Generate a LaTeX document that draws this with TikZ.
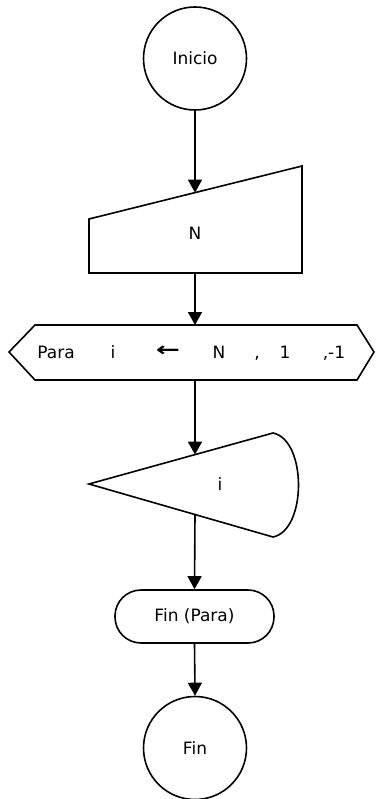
\documentclass[tikz,border=0pt]{standalone}
\usepackage{fontspec}
\setmainfont{DejaVu Sans}
\usetikzlibrary{arrows.meta}
\begin{document}
\begin{tikzpicture}[x=1pt,y=-1pt,
  every node/.style={font=\fontsize{17}{20}\selectfont},
  shapeline/.style={draw=black,line width=1.6pt,line join=miter},
  circ/.style={shapeline,circle,minimum size=103pt,inner sep=0pt},
  term/.style={shapeline,rectangle,rounded corners=26pt,minimum width=159pt,minimum height=53pt,inner sep=0pt},
  txt/.style={inner sep=0pt,anchor=center},
  hextxt/.style={inner sep=0pt,anchor=base},
  arr/.style={draw=black,line width=1.6pt,-{Triangle[width=14pt,length=13pt]}}]
\useasboundingbox (0,0) rectangle (375,799);
% Inicio
\node[circ] (inicio) at (195,58.5) {Inicio};
% manual input N
\draw[shapeline] (89,219) -- (302,166) -- (302,273) -- (89,273) -- cycle;
\node[txt] (ntext) at (195,233) {N};
\coordinate (miTop) at (195,192.6);
\coordinate (miBot) at (195,273);
% hexagon Para
\draw[shapeline] (9,352) -- (35,325) -- (357,325) -- (374,352) -- (357,380) -- (35,380) -- cycle;
\coordinate (hexTop) at (195,325);
\coordinate (hexBot) at (195,380);
\node[hextxt] (para) at (56,358) {Para};
\node[hextxt] (ivar) at (113,358) {i};
\node[txt] (assign) at (168,351.5) {\bfseries\scalebox{1.7}[1.15]{←}};
\node[hextxt] (nval) at (219,358) {N};
\node[hextxt] (c1) at (257,358) {,};
\node[hextxt] (one) at (285,358) {1};
\node[hextxt] (step) at (334,358) {,-1};
% loop shape i
\draw[shapeline] (89,484) -- (273,433) .. controls (307,440) and (307,530) .. (273,537) -- cycle;
\node[txt] (itext) at (220,484) {i};
\coordinate (shTop) at (195,454.6);
\coordinate (shBot) at (195,514.5);
% Fin (Para)
\node[term] (finpara) at (194.5,616.5) {Fin (Para)};
% Fin
\node[circ] (fin) at (195,748) {Fin};
% connectors
\draw[arr] (inicio.south) -- (miTop);
\draw[arr] (miBot) -- (hexTop);
\draw[arr] (hexBot) -- (shTop);
\draw[arr] (shBot) -- (finpara.north);
\draw[arr] (finpara.south) -- (fin.north);
\end{tikzpicture}
\end{document}
